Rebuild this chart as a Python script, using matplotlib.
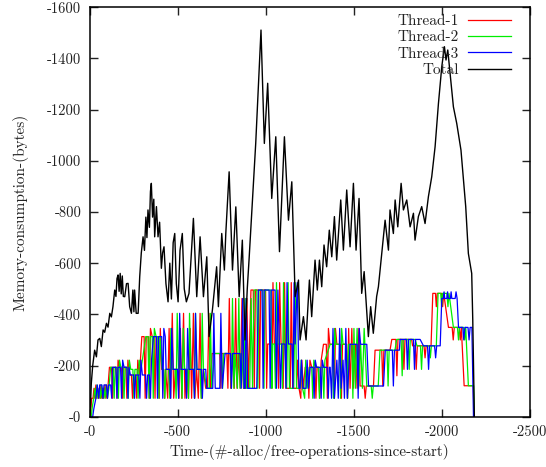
import matplotlib
matplotlib.use('Agg')
import matplotlib.pyplot as plt
from matplotlib.ticker import FixedLocator, FuncFormatter

# Memory usage per thread and total
t1_x = [0, 5, 12, 20, 25, 30, 36, 42, 48, 54, 60, 66, 74, 80, 88, 94, 104, 113,
        125, 131, 137, 150, 156, 162, 170, 182, 188, 194, 206, 212, 218, 226, 238, 244, 250, 262, 268, 274, 284, 297,
        310, 316, 322, 334, 340, 346, 356, 366, 372, 378, 390, 396, 402, 410, 420, 426, 432,
        444, 452, 460, 470, 478, 488, 500, 508, 516, 524, 534, 542, 552, 562, 572, 580, 590, 598, 608, 618, 628, 636, 646, 660,
        670, 678, 686, 696, 710, 740, 746, 752, 780, 786, 794, 802, 810, 822, 830, 838, 846, 856, 866, 874, 886, 894, 902, 917,
        930, 936, 942, 960, 966, 972, 1000, 1006, 1012,
        1030, 1036, 1042, 1050, 1068, 1074, 1080, 1088, 1092, 1100, 1108, 1116, 1140, 1146, 1154, 1176, 1182, 1190, 1200, 1206, 1214, 1225,
        1240, 1246, 1252, 1262, 1280, 1286, 1292, 1300, 1308, 1316, 1329,
        1345, 1351, 1357, 1365, 1385, 1391, 1397, 1405, 1425, 1431, 1437, 1460, 1466, 1472, 1480, 1490, 1498, 1510, 1520, 1530, 1537,
        1560, 1566, 1572, 1613, 1622, 1660, 1666, 1672, 1707, 1717, 1740, 1746, 1752, 1780, 1786, 1792, 1830, 1835,
        1850, 1856, 1862, 1900, 1906, 1912, 1940, 1950,
        1965, 1970, 1975, 2000, 2006, 2012, 2039,
        2060, 2066, 2072, 2100, 2106, 2112, 2128, 2180, 2184]
t1_y = [0, 0, 72, 72, 111, 72, 124, 72, 111, 72, 124, 72, 111, 72, 124, 72, 111, 193,
        193, 72, 193, 193, 72, 221, 193, 193, 72, 193, 193, 72, 221, 163, 163, 72, 163, 163, 72, 221, 163, 313,
        313, 72, 313, 313, 72, 345, 313, 313, 72, 313, 313, 72, 345, 185, 185, 72, 185,
        72, 345, 72, 404, 72, 185, 185, 72, 345, 72, 404, 72, 185, 72, 345, 72, 404, 72, 185, 72, 404, 72, 185, 111,
        111, 404, 111, 247, 247, 247, 111, 247, 247, 111, 462, 111, 247, 111, 462, 111, 247, 111, 462, 111, 111, 462, 111, 495,
        495, 111, 495, 495, 111, 495, 495, 111, 284,
        284, 111, 524, 284, 284, 111, 524, 284, 284, 111, 524, 111, 111, 524, 111, 111, 221, 111, 72, 221, 111, 193,
        193, 72, 221, 193, 193, 72, 193, 193, 72, 221, 283,
        283, 72, 345, 283, 283, 72, 345, 283, 283, 72, 283, 283, 72, 345, 111, 345, 111, 283, 111, 345, 120,
        120, 72, 120, 120, 260, 260, 120, 260, 260, 302, 302, 160, 302, 302, 185, 302, 302, 277,
        277, 185, 277, 277, 230, 277, 277, 482,
        482, 430, 482, 482, 430, 482, 349,
        349, 300, 349, 349, 300, 349, 121, 121, 0]

t2_x = [0, 10, 16, 24, 30, 36, 42, 48, 56, 62, 68, 74, 82, 88, 96, 102, 110, 120,
        134, 140, 146, 158, 164, 170, 178, 190, 196, 202, 214, 220, 226, 234, 246, 252, 258, 270, 276, 282, 292, 320,
        332, 338, 344, 356, 362, 368, 378, 388, 394, 400, 412,
        422, 428, 434, 450, 456, 462, 470, 486, 492, 498, 506, 520, 526, 532, 540, 556, 562, 568, 576, 590, 596, 602, 610, 628, 634, 640, 647, 666,
        680, 686, 694, 710, 750, 756, 762, 800, 806, 812, 820, 826, 840, 848, 856, 864, 876, 884, 892, 910, 918, 926, 935,
        950, 956, 962, 985, 991, 997, 1030, 1036, 1040,
        1050, 1056, 1062, 1070, 1090, 1096, 1102, 1110, 1120, 1128, 1136, 1160, 1168, 1176, 1196, 1202, 1210, 1222, 1228, 1236, 1250,
        1262, 1268, 1274, 1284, 1300, 1306, 1312, 1325, 1331, 1337, 1367,
        1380, 1386, 1392, 1400, 1420, 1426, 1432, 1440, 1460, 1466, 1472, 1490, 1496, 1502, 1510, 1520, 1528, 1540, 1550, 1560, 1575,
        1600, 1606, 1612, 1640, 1650, 1690, 1696, 1702, 1735, 1745, 1770, 1776, 1782, 1810, 1816, 1822, 1850, 1860,
        1880, 1886, 1892, 1930, 1936, 1942, 1970, 1980,
        1995, 2000, 2005, 2030, 2036, 2042, 2067,
        2090, 2096, 2102, 2125, 2131, 2137, 2152, 2182, 2186]
t2_y = [0, 0, 40, 72, 111, 72, 124, 72, 111, 72, 124, 72, 111, 72, 124, 72, 111, 193,
        193, 72, 193, 193, 72, 221, 193, 193, 72, 193, 193, 72, 221, 185, 185, 72, 185, 185, 72, 221, 185, 313,
        313, 72, 313, 313, 72, 345, 313, 313, 72, 313, 185,
        185, 72, 185, 185, 72, 345, 185, 185, 72, 404, 185, 185, 72, 345, 185, 185, 72, 404, 185, 185, 72, 404, 185, 185, 72, 404, 185, 111,
        111, 404, 111, 247, 247, 111, 247, 247, 111, 462, 111, 247, 111, 462, 111, 247, 111, 462, 111, 111, 462, 111, 495,
        495, 111, 495, 495, 111, 495, 495, 111, 284,
        284, 111, 524, 284, 284, 111, 524, 284, 111, 524, 111, 111, 524, 111, 111, 221, 111, 72, 221, 111, 193,
        193, 72, 221, 193, 193, 72, 193, 193, 72, 221, 283,
        283, 72, 345, 283, 283, 72, 345, 283, 283, 72, 283, 283, 72, 345, 111, 345, 111, 283, 111, 345, 120,
        120, 72, 120, 120, 260, 260, 120, 260, 260, 302, 302, 160, 302, 302, 185, 302, 302, 277,
        277, 185, 277, 277, 230, 277, 277, 482,
        482, 430, 482, 482, 430, 482, 349,
        349, 300, 349, 349, 300, 349, 121, 121, 0]

t3_x = [0, 18, 24, 36, 44, 52, 58, 70, 76, 82, 96, 102, 108, 120, 126, 130,
        150, 156, 162, 176, 182, 188, 196, 212, 218, 224, 232, 250, 256, 262, 280, 286, 292, 300, 318, 324, 330, 340, 346, 352, 363,
        380, 386, 392, 410, 416, 422, 430, 435,
        455, 461, 467, 475, 500, 506, 512, 520, 545, 551, 557, 565, 590, 596, 602, 610, 635, 641, 647, 660, 666,
        700, 706, 714, 740, 746, 754, 770, 800, 806, 812, 855, 862, 870, 878, 884, 890, 898, 950, 959,
        980, 986, 992, 1020, 1026, 1032, 1054, 1062, 1070, 1085, 1092,
        1110, 1116, 1122, 1130, 1150, 1156, 1162, 1168, 1180, 1190,
        1196, 1204, 1212, 1230, 1236, 1244, 1253, 1270, 1276, 1282, 1290, 1310, 1316, 1322, 1330, 1350, 1356, 1362, 1367,
        1375, 1383, 1391, 1405, 1413, 1421, 1429, 1440, 1448, 1456, 1464, 1480,
        1520, 1526, 1532, 1540, 1575, 1585,
        1613, 1670, 1680, 1720, 1726, 1732, 1760, 1764, 1800, 1806, 1812, 1840, 1846, 1852, 1878, 1897,
        1920, 1926, 1932, 1960, 1966, 1972, 1992, 2001,
        2010, 2014, 2018, 2030, 2034, 2038, 2050, 2054, 2058, 2077, 2082, 2088, 2096,
        2120, 2126, 2132, 2150, 2156, 2162, 2172, 2181]
t3_y = [0, 0, 30, 72, 124, 72, 124, 124, 72, 124, 124, 72, 124, 124, 72, 193,
        193, 72, 193, 193, 72, 221, 193, 193, 72, 193, 163, 163, 72, 163, 163, 72, 221, 163, 163, 72, 163, 163, 72, 221, 313,
        313, 72, 313, 313, 72, 345, 313, 185,
        185, 72, 345, 185, 185, 72, 404, 185, 185, 72, 345, 185, 185, 72, 404, 185, 185, 72, 185, 185, 111,
        111, 404, 111, 111, 404, 111, 247, 247, 111, 247, 247, 111, 462, 111, 111, 462, 111, 111, 495,
        495, 111, 495, 495, 111, 495, 495, 111, 495, 111, 284,
        284, 111, 524, 284, 284, 111, 524, 284, 524, 111,
        111, 221, 111, 111, 221, 111, 193, 193, 72, 221, 193, 193, 72, 221, 193, 193, 72, 193, 193,
        72, 345, 72, 221, 72, 345, 111, 221, 72, 345, 72, 283,
        283, 72, 345, 283, 283, 120,
        120, 120, 260, 260, 120, 260, 260, 302, 302, 185, 302, 302, 185, 302, 302, 277,
        277, 185, 277, 277, 230, 277, 277, 462,
        462, 488, 462, 462, 488, 462, 462, 488, 462, 462, 488, 462, 349,
        349, 300, 349, 349, 300, 349, 349, 0]

total_x = [0, 5, 10, 18, 29, 39, 48, 58, 67, 77, 86, 96, 105, 115, 124, 133, 143, 150, 156, 162, 168, 174, 180, 186,
           192, 200, 210, 219, 228, 238, 246, 252, 256, 265, 276, 285, 294, 304, 312, 320, 326, 332, 340, 346, 351,
           358, 365, 370, 380, 389, 398, 408, 415, 423, 434, 446, 456, 465, 475, 484, 493, 503, 514, 527, 538, 550,
           565, 590, 609, 628, 647, 666, 679, 698, 722, 732, 751, 766, 774, 793, 812, 831, 850, 868, 883, 896, 906,
           925, 944, 960, 974, 993, 1012, 1035, 1058, 1079, 1107, 1130, 1149, 1168, 1187, 1196, 1215, 1230, 1249,
           1262, 1281, 1294, 1306, 1319, 1332, 1347, 1362, 1376, 1391, 1404, 1427, 1442, 1461, 1480, 1499, 1514,
           1531, 1546, 1560, 1584, 1597, 1612, 1631, 1641, 1660, 1679, 1698, 1707, 1726, 1736, 1751, 1770, 1783,
           1802, 1821, 1840, 1849, 1868, 1887, 1906, 1925, 1944, 1963, 1982, 2001, 2016, 2025, 2035, 2054, 2067,
           2086, 2110, 2124, 2137, 2152, 2171, 2177, 2186]
total_y = [0, 40, 130, 200, 260, 234, 300, 306, 274, 339, 330, 365, 350, 404, 390, 430, 495, 470, 540, 554, 490, 560, 480, 550,
           470, 469, 520, 521, 430, 404, 495, 410, 495, 404, 404, 547, 640, 703, 650, 780, 700, 808, 740, 880, 912,
           780, 850, 703, 821, 703, 760, 580, 640, 664, 520, 449, 600, 460, 680, 716, 520, 449, 650, 716, 500, 449,
           482, 775, 469, 703, 469, 625, 313, 417, 586, 430, 716, 573, 716, 957, 573, 820, 469, 690, 300, 500, 612,
           840, 1068, 1300, 1511, 1068, 1303, 853, 1094, 645, 1094, 768, 918, 469, 534, 300, 391, 300, 534,
           391, 612, 495, 612, 508, 671, 586, 729, 625, 782, 612, 847, 651, 886, 664, 912, 651,
           853, 482, 567, 313, 430, 326, 470, 508, 638, 768, 651, 808, 716, 847, 742, 912, 808,
           847, 742, 795, 690, 782, 821, 755, 860, 938, 1055, 1224, 1368, 1446, 1394, 1433, 1303, 1211,
           1146, 1042, 925, 821, 638, 560, 378, 0]

x_ticks = [0, 500, 1000, 1500, 2000, 2500]
y_ticks = [0, 200, 400, 600, 800, 1000, 1200, 1400, 1600]

plt.rcParams['font.family'] = ['cmr10', 'DejaVu Serif']
plt.rcParams['axes.unicode_minus'] = False

fig = plt.figure(figsize=(5.46, 4.67), dpi=100)
ax = fig.add_axes([0.164, 0.1077, 0.806, 0.8767])

ax.plot(t1_x, t1_y, color='#ff0000', linewidth=0.9, label='Thread-1')
ax.plot(t2_x, t2_y, color='#00ee00', linewidth=0.9, label='Thread-2')
ax.plot(t3_x, t3_y, color='#0000ff', linewidth=0.9, label='Thread-3')
ax.plot(total_x, total_y, color='black', linewidth=1.0, label='Total')

ax.set_xlim(0, 2500)
ax.set_ylim(0, 1600)
ax.xaxis.set_major_locator(FixedLocator(x_ticks))
ax.yaxis.set_major_locator(FixedLocator(y_ticks))
# spaces render as small dashes in the reference
fmt = FuncFormatter(lambda v, p: '-%d' % v)
ax.xaxis.set_major_formatter(fmt)
ax.yaxis.set_major_formatter(fmt)
ax.tick_params(direction='in', length=6, width=1, top=True, right=True,
               labelsize=10.5, colors='#222222', pad=6)
for s in ax.spines.values():
    s.set_linewidth(1.1)

ax.set_xlabel('Time-(#-alloc/free-operations-since-start)', fontsize=11, color='#222222', labelpad=4)
ax.set_ylabel('Memory-consumption-(bytes)', fontsize=11, color='#222222', labelpad=13)

leg = ax.legend(loc='upper right', bbox_to_anchor=(0.957, 0.983), frameon=False,
                markerfirst=False, fontsize=11, handlelength=2.8, handletextpad=0.6,
                labelspacing=0.17, borderpad=0, borderaxespad=0)
for t in leg.get_texts():
    t.set_color('#222222')

fig.savefig('out.png', dpi=100)
